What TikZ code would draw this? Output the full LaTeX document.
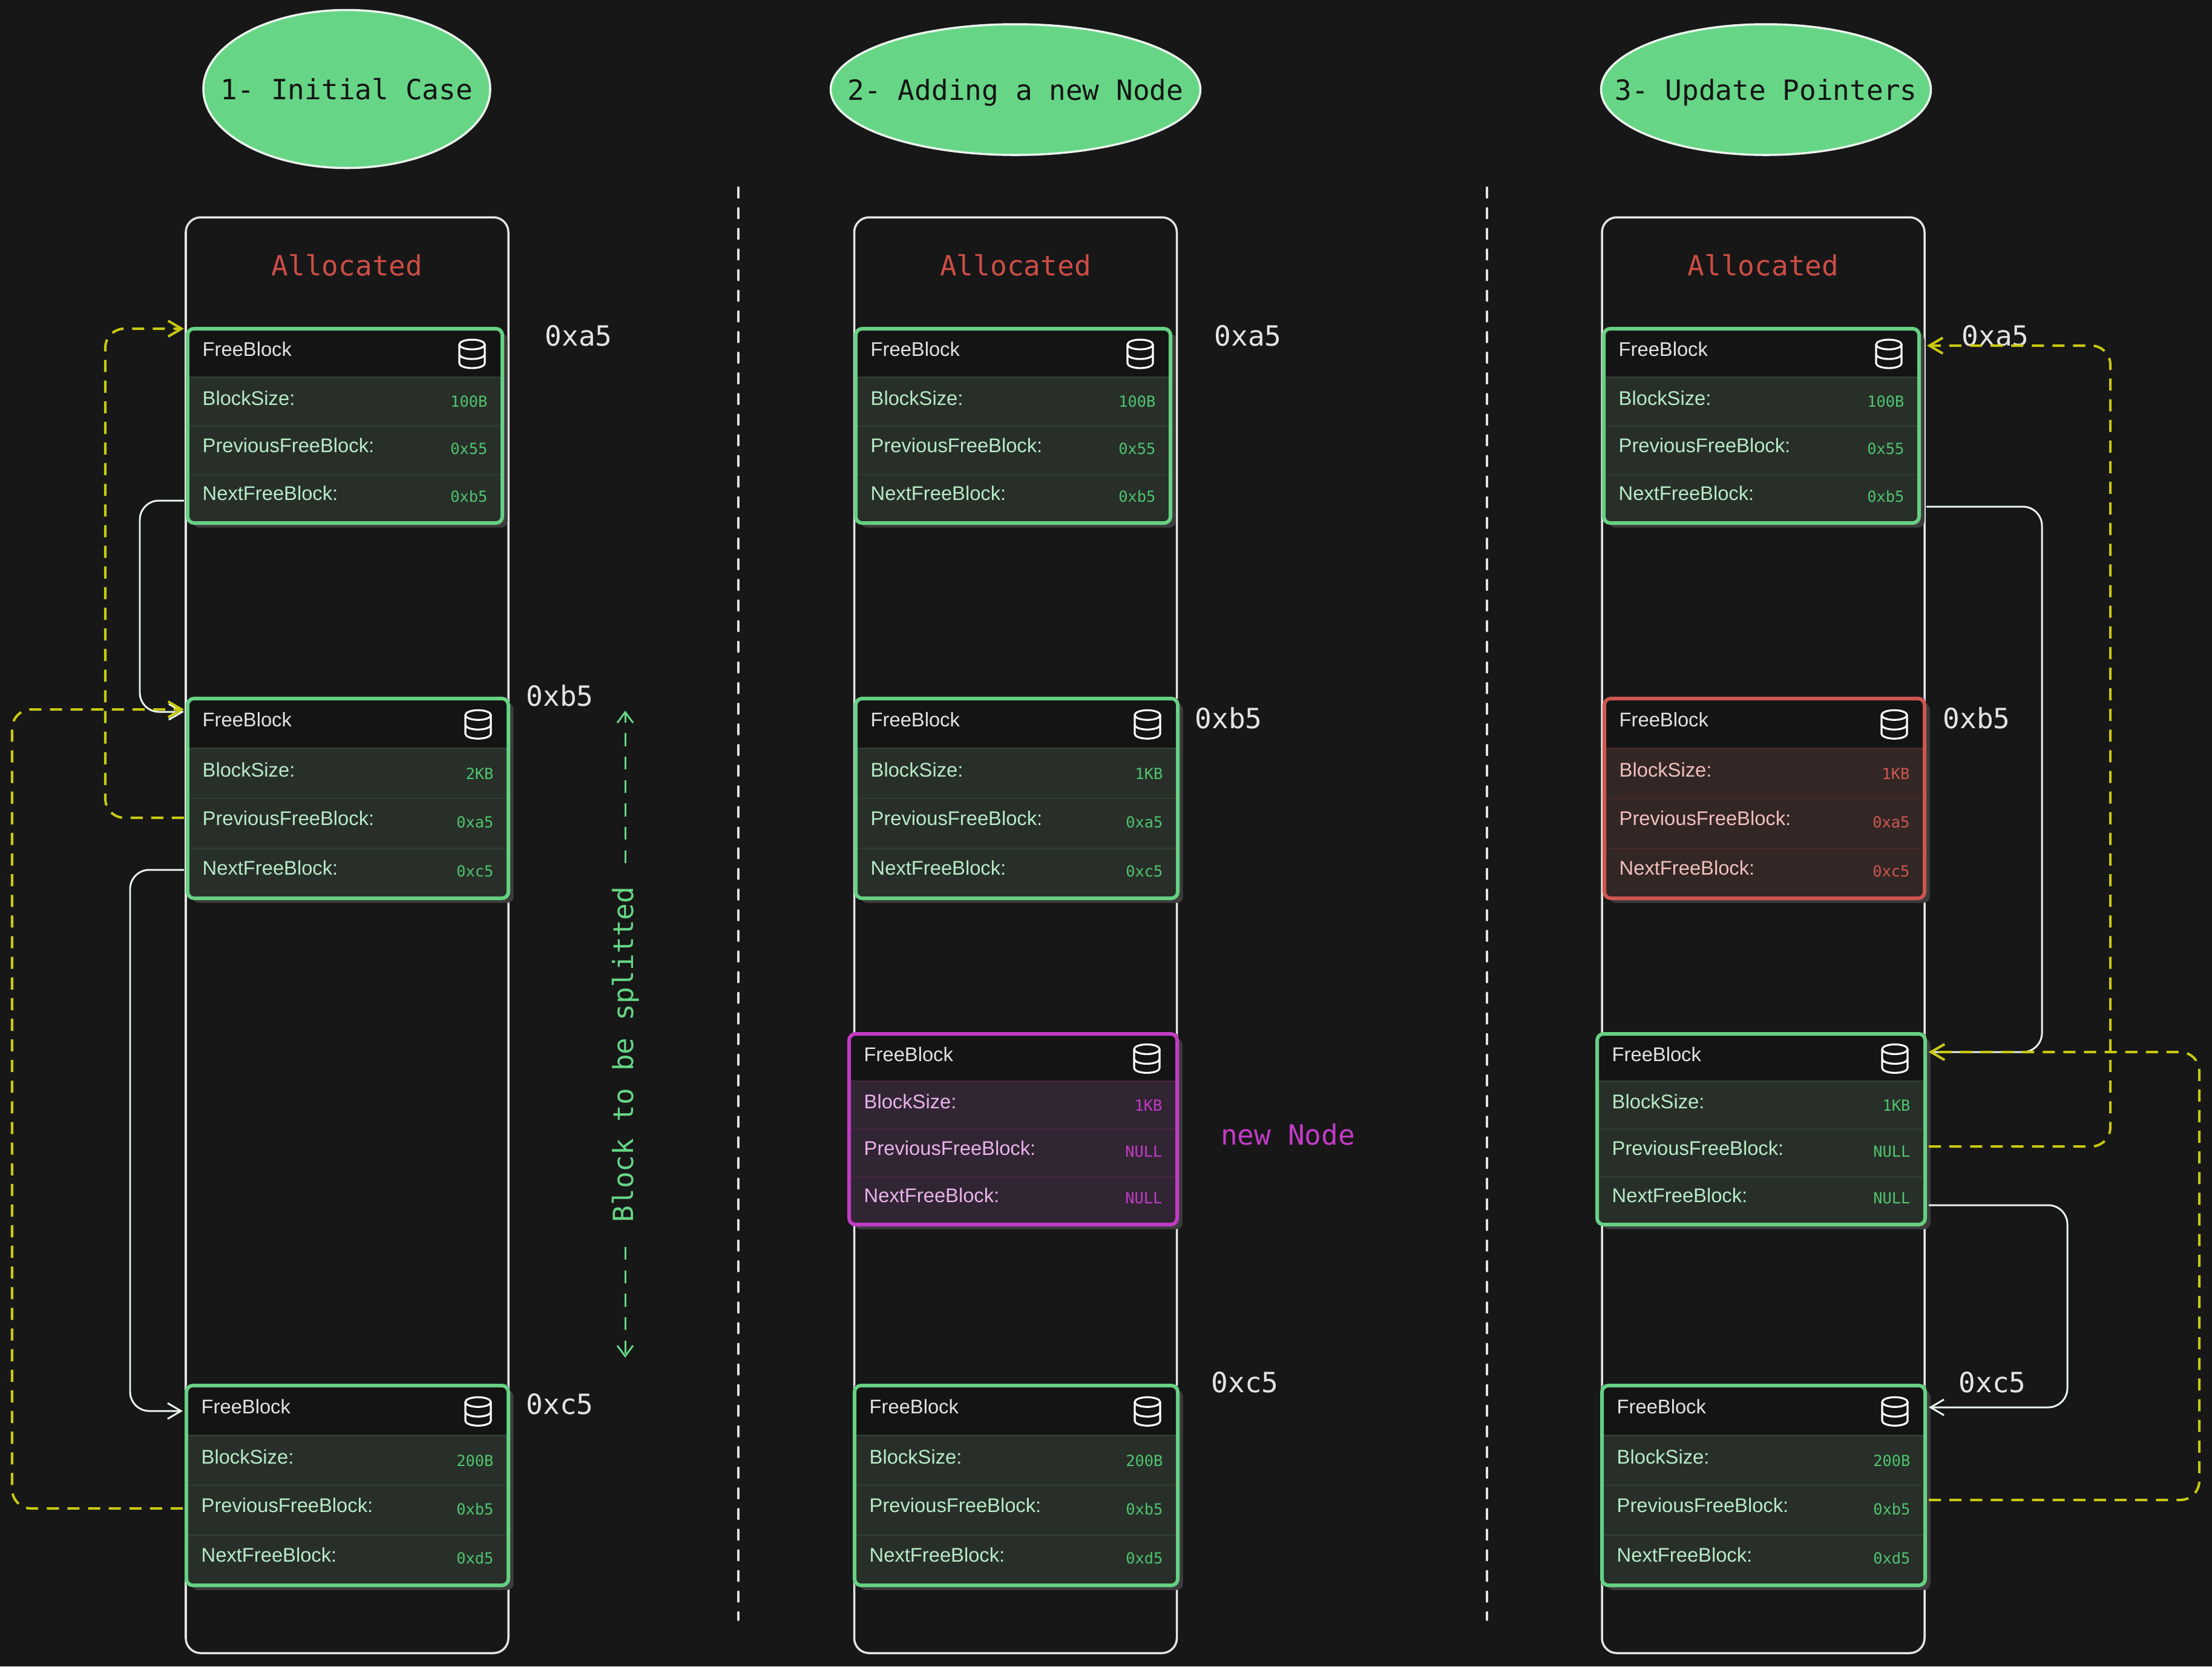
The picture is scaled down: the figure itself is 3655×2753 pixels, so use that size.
\documentclass[tikz,border=0pt]{standalone}
\usepackage{fontspec}
\setmainfont{Liberation Sans}
\newfontfamily\monofont{DejaVu Sans Mono}
\usetikzlibrary{arrows.meta,calc,positioning,shapes.geometric}
\definecolor{PageBg}{HTML}{171717}
\definecolor{HeadBg}{HTML}{141414}
\definecolor{FrameLine}{HTML}{E3E3E3}
\definecolor{LinkWhite}{HTML}{EAF5EC}
\definecolor{LinkYellow}{HTML}{C9C910}
\definecolor{ShadowGrey}{HTML}{3C3C3C}
\definecolor{TitleGreen}{HTML}{66D686}
\definecolor{AllocRed}{HTML}{CB4D45}
\definecolor{AddrGrey}{HTML}{E3E3E3}
\definecolor{GreenLine}{HTML}{66D083}
\definecolor{GreenTint}{HTML}{282F29}
\definecolor{GreenSep}{HTML}{2D3D31}
\definecolor{GreenText}{HTML}{B8EBC6}
\definecolor{GreenValue}{HTML}{4FC46F}
\definecolor{PinkLine}{HTML}{C23BC6}
\definecolor{PinkTint}{HTML}{312533}
\definecolor{PinkSep}{HTML}{40263F}
\definecolor{PinkText}{HTML}{E9B3EA}
\definecolor{PinkValue}{HTML}{C23BC6}
\definecolor{RedLine}{HTML}{CE5550}
\definecolor{RedTint}{HTML}{332725}
\definecolor{RedSep}{HTML}{432B29}
\definecolor{RedText}{HTML}{F0C0BC}
\definecolor{RedValue}{HTML}{CE5750}
\tikzset{
  title/.style={ellipse, draw=LinkWhite, fill=TitleGreen, line width=1pt, inner sep=0pt, text depth=0pt,
                font=\monofont\fontsize{13.1}{15}\selectfont, text=HeadBg},
  frame/.style={draw=FrameLine, line width=1pt, rounded corners=7pt, inner sep=0pt,
                minimum width=533*0.01cm, minimum height=2372*0.01cm},
  alloc/.style={font=\monofont\fontsize{13.1}{15}\selectfont, text=AllocRed},
  addr/.style={font=\monofont\fontsize{13.1}{15}\selectfont, text=AddrGrey},
  head/.style={rectangle, fill=HeadBg, inner sep=0pt, outer sep=0pt, anchor=north west},
  field/.style={rectangle, inner sep=0pt, outer sep=0pt},
  fname/.style={anchor=west, inner sep=0pt, font=\fontsize{9.3}{11}\selectfont},
  fvalue/.style={anchor=east, inner sep=0pt, font=\monofont\fontsize{7.2}{9}\selectfont},
  icon/.style={draw=white, line width=0.9pt},
  dbicon/.pic={
    \draw[icon] (0,-16) ellipse [x radius=21, y radius=8];
    \draw[icon] (-21,-16) -- (-21,15) arc [start angle=180, end angle=0, x radius=21, y radius=8] -- (21,-16);
    \draw[icon] (-21,0) arc [start angle=180, end angle=0, x radius=21, y radius=8];
  },
  link/.style={-{Straight Barb[length=6.3pt,width=7.4pt]}, draw=LinkWhite, line width=0.85pt,
               rounded corners=9pt, shorten <=1.7pt, shorten >=1.7pt},
  ylink/.style={link, draw=LinkYellow, line width=1.15pt, dash pattern=on 5.7pt off 4pt},
  divider/.style={draw=FrameLine, line width=1.1pt, line cap=round, dash pattern=on 4.6pt off 5.1pt},
  splitarr/.style={-{Straight Barb[length=5pt,width=7.4pt]}, draw=TitleGreen, line width=0.85pt,
                   dash pattern=on 6pt off 5pt}
}
% name, palette, left, right, top, bottom, size, previous, next
\newcommand{\freeblock}[9]{
  \pgfmathsetmacro\blockw{#4-#3}
  \pgfmathsetmacro\rowh{(#6-#5)/4}
  \node[fill=ShadowGrey, rounded corners=3pt, inner sep=0pt, anchor=north west,
        minimum width=\blockw*0.01cm, minimum height=(#6-#5)*0.01cm] (#1-shadow) at (#3+8,#5+7) {};
  \node[head, minimum width=\blockw*0.01cm, minimum height=\rowh*0.01cm] (#1-head) at (#3,#5) {};
  \node[field, fill=#2Tint, minimum width=\blockw*0.01cm, minimum height=\rowh*0.01cm, below=0pt of #1-head] (#1-size) {};
  \node[field, fill=#2Tint, minimum width=\blockw*0.01cm, minimum height=\rowh*0.01cm, below=0pt of #1-size] (#1-prev) {};
  \node[field, fill=#2Tint, minimum width=\blockw*0.01cm, minimum height=\rowh*0.01cm, below=0pt of #1-prev] (#1-next) {};
  \draw[#2Sep, line width=0.9pt] (#1-size.north west) -- (#1-size.north east);
  \draw[#2Sep, line width=0.7pt] (#1-prev.north west) -- (#1-prev.north east);
  \draw[#2Sep, line width=0.7pt] (#1-next.north west) -- (#1-next.north east);
  \node[fname, text=AddrGrey] (#1-t0) at ($(#1-head.west)+(24,-6)$) {FreeBlock};
  \node[fname, text=#2Text] (#1-t1) at ($(#1-size.west)+(24,-6)$) {BlockSize:};
  \node[fname, text=#2Text] (#1-t2) at ($(#1-prev.west)+(24,-8)$) {PreviousFreeBlock:};
  \node[fname, text=#2Text] (#1-t3) at ($(#1-next.west)+(24,-9)$) {NextFreeBlock:};
  \node[fvalue, text=#2Value] (#1-v1) at ($(#1-size.east)+(-24,0)$) {#7};
  \node[fvalue, text=#2Value] (#1-v2) at ($(#1-prev.east)+(-24,-2.5)$) {#8};
  \node[fvalue, text=#2Value] (#1-v3) at ($(#1-next.east)+(-24,-4)$) {#9};
  \pic at ($(#1-head.east)+(-50,2)$) {dbicon};
  \node[draw=#2Line, line width=1.7pt, rounded corners=3pt, inner sep=0pt, outer sep=0pt, anchor=north west,
        minimum width=\blockw*0.01cm, minimum height=(#6-#5)*0.01cm] (#1) at (#3,#5) {};
}

\begin{document}
\begin{tikzpicture}[x=0.01cm,y=-0.01cm]
\useasboundingbox (0,0) rectangle (3655,2753);
\fill[PageBg] (0,0) rectangle (3655,2753);

\node[title, minimum width=474*0.01cm, minimum height=261*0.01cm] (title1) at (573,147) {\makebox[0pt]{1- Initial Case}};
\node[title, minimum width=611*0.01cm, minimum height=216*0.01cm] (title2) at (1678,148) {\makebox[0pt]{2- Adding a new Node}};
\node[title, minimum width=545*0.01cm, minimum height=216*0.01cm] (title3) at (2918,148) {\makebox[0pt]{3- Update Pointers}};

% memory columns
\foreach \col/\xc in {1/573.5,2/1678,3/2913.5}{
  \node[frame] (frame\col) at (\xc,1545) {};
  \node[alloc] (alloc\col) at ($(frame\col.north)+(0,81)$) {Allocated};
}
\coordinate (div1top) at (1220,310);
\coordinate (div1bot) at (1220,2676);
\coordinate (div2top) at (2457,310);
\coordinate (div2bot) at (2457,2676);
\draw[divider] (div1top) -- (div1bot);
\draw[divider] (div2top) -- (div2bot);

\freeblock{a1}{Green}{310}{830}{543}{864}{100B}{0x55}{0xb5}
\freeblock{b1}{Green}{310}{840}{1154}{1484}{2KB}{0xa5}{0xc5}
\freeblock{c1}{Green}{308}{840}{2289}{2619}{200B}{0xb5}{0xd5}
\freeblock{a2}{Green}{1414}{1934}{543}{864}{100B}{0x55}{0xb5}
\freeblock{b2}{Green}{1414}{1946}{1154}{1484}{1KB}{0xa5}{0xc5}
\freeblock{n2}{Pink}{1403}{1945}{1708}{2023}{1KB}{NULL}{NULL}
\freeblock{c2}{Green}{1412}{1946}{2289}{2619}{200B}{0xb5}{0xd5}
\freeblock{a3}{Green}{2650}{3171}{543}{864}{100B}{0x55}{0xb5}
\freeblock{b3}{Red}{2651}{3180}{1154}{1484}{1KB}{0xa5}{0xc5}
\freeblock{n3}{Green}{2639}{3181}{1708}{2023}{1KB}{NULL}{NULL}
\freeblock{c3}{Green}{2647}{3181}{2289}{2619}{200B}{0xb5}{0xd5}

% addresses
\node[addr] (a1addr) at (956,555) {0xa5};
\node[addr] (b1addr) at (925,1149) {0xb5};
\node[addr] (c1addr) at (925,2320) {0xc5};
\node[addr] (a2addr) at (2062,555) {0xa5};
\node[addr] (b2addr) at (2030,1186) {0xb5};
\node[addr] (c2addr) at (2057,2284) {0xc5};
\node[addr] (a3addr) at (3297,555) {0xa5};
\node[addr] (b3addr) at (3266,1186) {0xb5};
\node[addr] (c3addr) at (3292,2284) {0xc5};
\node[font=\monofont\fontsize{13.1}{15}\selectfont, text=PinkLine] (newnode) at (2128,1874) {new Node};

% block to split
\node[rotate=90, font=\monofont\fontsize{13.1}{15}\selectfont, text=TitleGreen, inner sep=0pt] (split) at (1034,1742) {Block to be splitted};
\coordinate (splittop) at (1033,1174);
\coordinate (splitbot) at (1033,2243);
\draw[splitarr] ([yshift=0.38cm]split.east -| splittop) -- (splittop);
\draw[splitarr] ([yshift=-0.4cm]split.west -| splitbot) -- (splitbot);

% case 1 pointers
\draw[link] (a1-next.west |- 0,827) -- ++(-79,0) |- (b1-head.west |- 0,1176);
\draw[link] (b1-next.west |- 0,1437) -- ++(-95,0) |- (c1-head.west |- 0,2331);
\draw[ylink] (b1-prev.west |- 0,1351) -- ++(-136,0) |- (a1-head.west |- 0,543);
\draw[ylink] (c1-prev.west |- 0,2492) -- ++(-288,0) |- (b1-head.west |- 0,1172);

% case 3 pointers
\draw[link] ([xshift=0.06cm]a3-next.east |- 0,837) -- ++(197,0) |- (n3-head.east |- 0,1738);
\draw[link] (n3-next.east |- 0,1991) -- ++(235,0) |- (c3-head.east |- 0,2325);
\draw[ylink] (n3-prev.east |- 0,1894) -- ++(306,0) |- ([xshift=0.07cm]a3-head.east |- 0,571);
\draw[ylink] (c3-prev.east |- 0,2478) -- ++(453,0) |- (n3-head.east |- 0,1738);
\end{tikzpicture}
\end{document}
